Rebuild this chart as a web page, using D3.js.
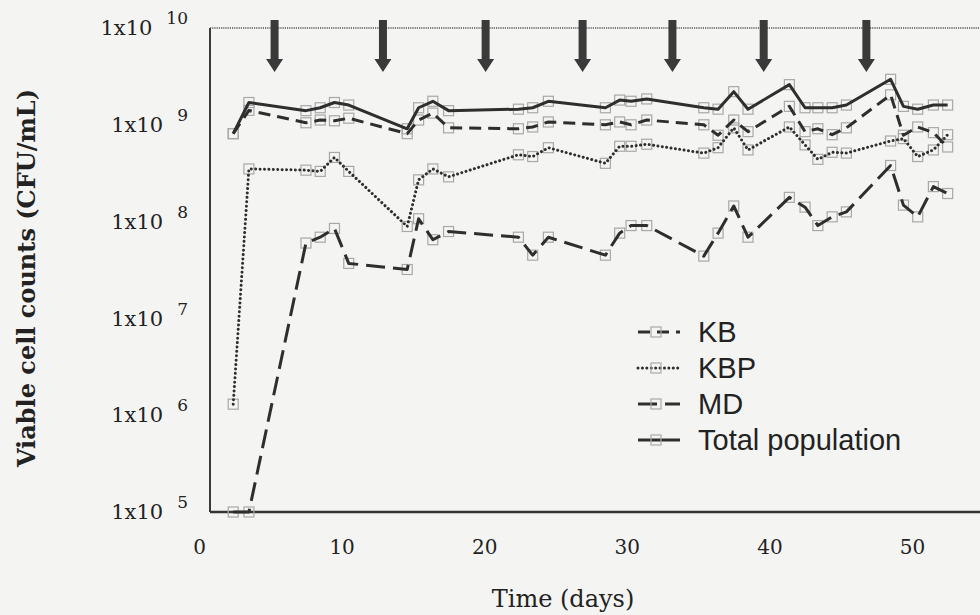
<!DOCTYPE html>
<html>
<head>
<meta charset="utf-8">
<script src="https://cdn.jsdelivr.net/npm/d3@7"></script>
<style>
  body { margin: 0; background: #f4f4f2; }
  svg { display: block; }
</style>
</head>
<body>
<div class="graph-container"></div>
<script>
// sampling days
const days = [2.4, 3.5, 7.5, 8.5, 9.5, 10.5, 14.6, 15.4, 16.4, 17.5, 22.4, 23.4, 24.5, 28.5, 29.5, 30.3,
    31.4, 35.4, 36.4, 37.5, 38.5, 41.4, 42.5, 43.4, 44.4, 45.4, 48.5, 49.4, 50.4, 51.5, 52.5];

// viable counts, CFU/mL
const kb = [8.1e8, 1.41e9, 1.05e9, 1.12e9, 1.1e9, 1.17e9, 8.1e8, 1.12e9, 1.32e9, 9.3e8, 9.1e8, 9.5e8, 1.07e9,
    1.0e9, 1.07e9, 1.0e9, 1.12e9, 1.0e9, 7.8e8, 1.12e9, 8.5e8, 1.55e9, 8.5e8, 9.1e8, 7.9e8, 9.3e8, 2.04e9,
    7.8e8, 9.5e8, 8.3e8, 5.9e8];
const kbp = [1.3e6, 3.5e8, 3.4e8, 3.3e8, 4.6e8, 3.3e8, 8.9e7, 2.7e8, 3.5e8, 2.9e8, 4.9e8, 4.7e8, 5.8e8,
    4.0e8, 6.0e8, 6.0e8, 6.3e8, 5.1e8, 5.8e8, 9.3e8, 5.5e8, 9.5e8, 6.2e8, 4.4e8, 5.2e8, 5.1e8, 6.8e8,
    7.2e8, 4.7e8, 5.5e8, 7.9e8];
const md = [1e5, 1e5, 6.0e7, 6.9e7, 8.5e7, 3.7e7, 3.2e7, 1.07e8, 6.5e7, 7.9e7, 6.9e7, 4.5e7, 6.9e7,
    4.5e7, 7.6e7, 9.1e7, 9.1e7, 4.4e7, 7.6e7, 1.45e8, 6.9e7, 1.78e8, 1.41e8, 9.1e7, 1.12e8, 1.26e8, 3.8e8,
    1.48e8, 1.12e8, 2.3e8, 1.95e8];
const total = [8.1e8, 1.7e9, 1.4e9, 1.5e9, 1.7e9, 1.6e9, 9.1e8, 1.5e9, 1.75e9, 1.4e9, 1.45e9, 1.5e9, 1.75e9,
    1.5e9, 1.8e9, 1.75e9, 1.85e9, 1.5e9, 1.45e9, 2.2e9, 1.45e9, 2.6e9, 1.5e9, 1.5e9, 1.5e9, 1.6e9, 2.95e9,
    1.55e9, 1.45e9, 1.6e9, 1.6e9];

// feeding days (arrows)
const feedDays = [5.3, 12.9, 20.1, 26.9, 33.2, 39.6, 46.8];

const xTicks = [0, 10, 20, 30, 40, 50];
const yExponents = [5, 6, 7, 8, 9, 10];
const seriesNames = ['KB', 'KBP', 'MD', 'Total population'];

const width = 980, height = 615;
const ink = '#2e2e2e';
const frameLeft = 210, frameTop = 28, frameBottom = 512;

const x = d3.scaleLinear().domain([0, 60]).range([199, 199 + 60 * 14.26]);
const y = d3.scaleLog().domain([1e5, 1e10]).range([frameBottom, frameTop]);

const styles = {
    'KB': { dash: '12,7', width: 3, cap: 'butt' },
    'KBP': { dash: '0.01,4.4', width: 3, cap: 'round' },
    'MD': { dash: '19,8', width: 3, cap: 'butt' },
    'Total population': { dash: null, width: 3, cap: 'butt' }
};
const series = [
    { name: 'KB', values: kb },
    { name: 'KBP', values: kbp },
    { name: 'MD', values: md },
    { name: 'Total population', values: total }
];

const svg = d3.select('div.graph-container')
    .append('svg')
    .attr('width', width)
    .attr('height', height);

svg.append('rect')
    .attr('width', width)
    .attr('height', height)
    .attr('fill', '#f4f4f2');

// frame
svg.append('line')
    .attr('x1', frameLeft).attr('x2', width)
    .attr('y1', frameTop).attr('y2', frameTop)
    .attr('stroke', '#555').attr('stroke-width', 1.3)
    .attr('stroke-dasharray', '1.2,1');
svg.append('line')
    .attr('x1', frameLeft).attr('x2', frameLeft)
    .attr('y1', frameTop).attr('y2', frameBottom)
    .attr('stroke', '#3a3a3a').attr('stroke-width', 2);
svg.append('line')
    .attr('x1', frameLeft).attr('x2', width)
    .attr('y1', frameBottom).attr('y2', frameBottom)
    .attr('stroke', '#333').attr('stroke-width', 2.6);

// x axis labels
const xAxisG = svg.append('g')
    .attr('transform', `translate(0, ${frameBottom})`)
    .call(d3.axisBottom(x).tickValues(xTicks).tickSize(0).tickPadding(28));
xAxisG.select('.domain').remove();
xAxisG.selectAll('.tick text')
    .attr('fill', '#222')
    .attr('font-family', '"DejaVu Serif", serif')
    .attr('font-size', '20px');

// y axis labels: 1x10^n
const yAxisG = svg.append('g')
    .attr('transform', 'translate(188, 0)')
    .call(d3.axisLeft(y).tickValues(yExponents.map(e => Math.pow(10, e))).tickSize(0).tickPadding(0).tickFormat(''));
yAxisG.select('.domain').remove();
yAxisG.selectAll('.tick text')
    .attr('fill', '#222')
    .attr('font-family', '"DejaVu Serif", serif')
    .attr('font-size', '21px')
    .each(function (d) {
        const t = d3.select(this);
        t.append('tspan').text('1x10');
        t.append('tspan')
            .attr('dx', 14)
            .attr('dy', -11)
            .attr('font-size', '17px')
            .text(Math.round(Math.log10(d)));
    });

// axis titles
svg.append('text')
    .attr('transform', 'translate(35, 278) rotate(-90)')
    .attr('text-anchor', 'middle')
    .attr('font-family', '"DejaVu Serif", serif')
    .attr('font-weight', 'bold')
    .attr('font-size', '24px')
    .attr('fill', '#222')
    .text('Viable cell counts (CFU/mL)');

svg.append('text')
    .attr('x', 563)
    .attr('y', 607)
    .attr('text-anchor', 'middle')
    .attr('font-family', '"DejaVu Serif", serif')
    .attr('font-size', '24px')
    .attr('fill', '#222')
    .text('Time (days)');

// arrows
svg.append('g')
    .selectAll('path')
    .data(feedDays)
    .enter()
    .append('path')
    .attr('d', d => {
        const cx = x(d);
        return `M${cx - 4},20 H${cx + 4} V59 H${cx + 8.5} L${cx},72 L${cx - 8.5},59 H${cx - 4} Z`;
    })
    .attr('fill', '#3a3a3a');

// markers
const markers = svg.append('g');
series.forEach(s => {
    markers.selectAll(null)
        .data(s.values)
        .enter()
        .append('rect')
        .attr('x', (d, i) => x(days[i]) - 5)
        .attr('y', d => y(d) - 5)
        .attr('width', 10)
        .attr('height', 10)
        .attr('fill', 'none')
        .attr('stroke', '#a8a8a8')
        .attr('stroke-width', 1.2);
});

// lines
const line = d3.line()
    .x((d, i) => x(days[i]))
    .y(d => y(d));

svg.append('g')
    .selectAll('path')
    .data(series)
    .enter()
    .append('path')
    .attr('d', d => line(d.values))
    .attr('fill', 'none')
    .attr('stroke', ink)
    .attr('stroke-width', d => styles[d.name].width)
    .attr('stroke-linecap', d => styles[d.name].cap)
    .attr('stroke-linejoin', 'round')
    .attr('stroke-dasharray', d => styles[d.name].dash);

// legend
const legendY = [332, 368, 404, 440];
const legend = svg.append('g');
seriesNames.forEach((name, i) => {
    const st = styles[name];
    legend.append('line')
        .attr('x1', 638).attr('x2', 680)
        .attr('y1', legendY[i]).attr('y2', legendY[i])
        .attr('stroke', ink)
        .attr('stroke-width', st.width)
        .attr('stroke-linecap', st.cap)
        .attr('stroke-dasharray', st.dash);
    legend.append('rect')
        .attr('x', 651).attr('y', legendY[i] - 5)
        .attr('width', 10).attr('height', 10)
        .attr('fill', 'none')
        .attr('stroke', '#a8a8a8')
        .attr('stroke-width', 1.2);
    legend.append('text')
        .attr('x', 698)
        .attr('y', legendY[i])
        .attr('dy', '0.36em')
        .attr('font-family', '"Liberation Sans", Arial, sans-serif')
        .attr('font-size', '29px')
        .attr('fill', '#222')
        .text(name);
});
</script>
</body>
</html>
